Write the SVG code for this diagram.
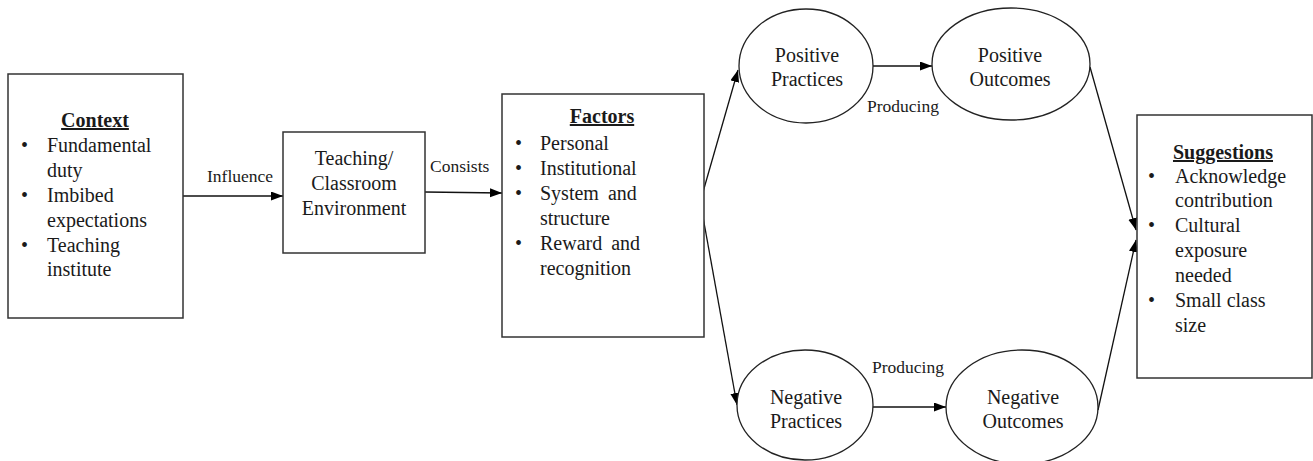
<svg xmlns="http://www.w3.org/2000/svg" width="1313" height="461" viewBox="0 0 1313 461">
  <style>
    .box { fill: #fff; stroke: #333; stroke-width: 1.5; }
    .oval { fill: #fff; stroke: #222; stroke-width: 1.3; }
    .t { font-family: "Liberation Serif", "Times New Roman", serif; font-size: 20px; fill: #1a1a1a; }
    .c { text-anchor: middle; }
    .title { font-weight: bold; text-decoration: underline; }
    .lbl { font-family: "Liberation Serif", "Times New Roman", serif; font-size: 17.5px; fill: #1a1a1a; }
    .edge { fill: none; stroke: #111; stroke-width: 1.3; marker-end: url(#arrow); }
  </style>
  <defs>
    <marker id="arrow" markerUnits="userSpaceOnUse" markerWidth="13" markerHeight="10" refX="12" refY="4.5" orient="auto">
      <path d="M0,0 L12,4.5 L0,9 z" fill="#000"/>
    </marker>
  </defs>
  <rect width="1313" height="461" fill="#fff"/>

  <!-- connectors -->
  <g id="connectors">
    <line class="edge" x1="183" y1="196" x2="283" y2="196"/>
    <line class="edge" x1="425" y1="192" x2="502" y2="193"/>
    <line class="edge" x1="703" y1="192" x2="738" y2="70"/>
    <line class="edge" x1="703" y1="217" x2="737" y2="405"/>
    <line class="edge" x1="873" y1="66" x2="932" y2="66"/>
    <line class="edge" x1="873" y1="407" x2="946" y2="407"/>
    <line class="edge" x1="1090" y1="67" x2="1136" y2="230"/>
    <line class="edge" x1="1098" y1="410" x2="1136" y2="240"/>
    <text class="lbl" x="207" y="182">Influence</text>
    <text class="lbl" x="430" y="172">Consists</text>
    <text class="lbl" x="867" y="112">Producing</text>
    <text class="lbl" x="872" y="373">Producing</text>
  </g>

  <!-- Context -->
  <g id="context">
    <rect class="box" x="8" y="74" width="175" height="244"/>
    <text class="t c title" x="95" y="127">Context</text>
    <text class="t" x="21" y="152">•</text>
    <text class="t" x="47" y="152">Fundamental</text>
    <text class="t" x="47" y="177">duty</text>
    <text class="t" x="21" y="202">•</text>
    <text class="t" x="47" y="202">Imbibed</text>
    <text class="t" x="47" y="227">expectations</text>
    <text class="t" x="21" y="252">•</text>
    <text class="t" x="47" y="252">Teaching</text>
    <text class="t" x="47" y="276">institute</text>
  </g>

  <!-- Teaching / Classroom Environment -->
  <g id="environment">
    <rect class="box" x="283" y="132" width="142" height="121"/>
    <text class="t c" x="354" y="165">Teaching/</text>
    <text class="t c" x="354" y="190">Classroom</text>
    <text class="t c" x="354" y="215">Environment</text>
  </g>

  <!-- Factors -->
  <g id="factors">
    <rect class="box" x="502" y="94" width="202" height="243"/>
    <text class="t c title" x="602" y="123">Factors</text>
    <text class="t" x="515" y="150">•</text>
    <text class="t" x="540" y="150">Personal</text>
    <text class="t" x="515" y="175">•</text>
    <text class="t" x="540" y="175">Institutional</text>
    <text class="t" x="515" y="200">•</text>
    <text class="t" x="540" y="200" word-spacing="4">System and</text>
    <text class="t" x="540" y="225">structure</text>
    <text class="t" x="515" y="250">•</text>
    <text class="t" x="540" y="250" word-spacing="4">Reward and</text>
    <text class="t" x="540" y="275">recognition</text>
  </g>

  <!-- Practices and outcomes -->
  <g id="positive-practices">
    <ellipse class="oval" cx="806" cy="66" rx="67" ry="57"/>
    <text class="t c" x="807" y="62">Positive</text>
    <text class="t c" x="807" y="86">Practices</text>
  </g>
  <g id="positive-outcomes">
    <ellipse class="oval" cx="1011" cy="64" rx="79" ry="56"/>
    <text class="t c" x="1010" y="62">Positive</text>
    <text class="t c" x="1010" y="86">Outcomes</text>
  </g>
  <g id="negative-practices">
    <ellipse class="oval" cx="805" cy="405" rx="68" ry="55"/>
    <text class="t c" x="806" y="404">Negative</text>
    <text class="t c" x="806" y="428">Practices</text>
  </g>
  <g id="negative-outcomes">
    <ellipse class="oval" cx="1022" cy="407" rx="76" ry="57"/>
    <text class="t c" x="1023" y="404">Negative</text>
    <text class="t c" x="1023" y="428">Outcomes</text>
  </g>

  <!-- Suggestions -->
  <g id="suggestions">
    <rect class="box" x="1137" y="115" width="175" height="263"/>
    <text class="t c title" x="1223" y="159">Suggestions</text>
    <text class="t" x="1148" y="183">•</text>
    <text class="t" x="1175" y="183">Acknowledge</text>
    <text class="t" x="1175" y="207">contribution</text>
    <text class="t" x="1148" y="232">•</text>
    <text class="t" x="1175" y="232">Cultural</text>
    <text class="t" x="1175" y="257">exposure</text>
    <text class="t" x="1175" y="282">needed</text>
    <text class="t" x="1148" y="307">•</text>
    <text class="t" x="1175" y="307">Small class</text>
    <text class="t" x="1175" y="332">size</text>
  </g>
</svg>
